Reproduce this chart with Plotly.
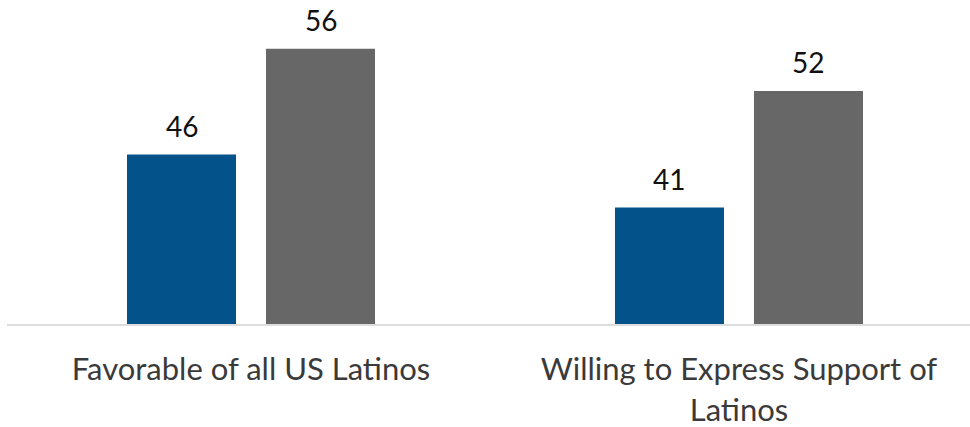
import plotly.graph_objects as go

categories = ["Favorable of all US Latinos", "Willing to Express Support of<br>Latinos"]
series_a = [46, 41]
series_b = [56, 52]
colors = ["#03538A", "#676767"]

fig = go.Figure()
for vals, col in zip([series_a, series_b], colors):
    fig.add_trace(go.Bar(
        x=[0, 1], y=vals, marker=dict(color=col, line=dict(width=0)),
        hoverinfo="skip",
    ))

# value labels above each bar
offsets = [-69.5, 69.5]
annotations = []
for vals, dx in zip([series_a, series_b], offsets):
    for i, v in enumerate(vals):
        annotations.append(dict(
            x=i, y=v, xref="x", yref="y", text=str(v), showarrow=False,
            xshift=dx, yshift=10, yanchor="bottom",
            font=dict(family="Lato", size=28, color="#111111"),
        ))

fig.update_layout(
    width=970, height=427,
    margin=dict(l=7, r=0, t=0, b=103),
    paper_bgcolor="white", plot_bgcolor="white",
    barmode="group", bargap=0.4303, bargroupgap=0.2158,
    showlegend=False,
    annotations=annotations,
    xaxis=dict(
        tickmode="array", tickvals=[0, 1], ticktext=categories,
        range=[-0.5, 1.4734], showline=True, linecolor="#DDDDDD", linewidth=2,
        showgrid=False, zeroline=False, ticks="", ticklabelstandoff=17,
        tickfont=dict(family="Lato", size=31, color="#3A3A3A"),
    ),
    yaxis=dict(range=[30, 60.6], visible=False, showgrid=False, zeroline=False),
)

fig.write_html("out.html")
